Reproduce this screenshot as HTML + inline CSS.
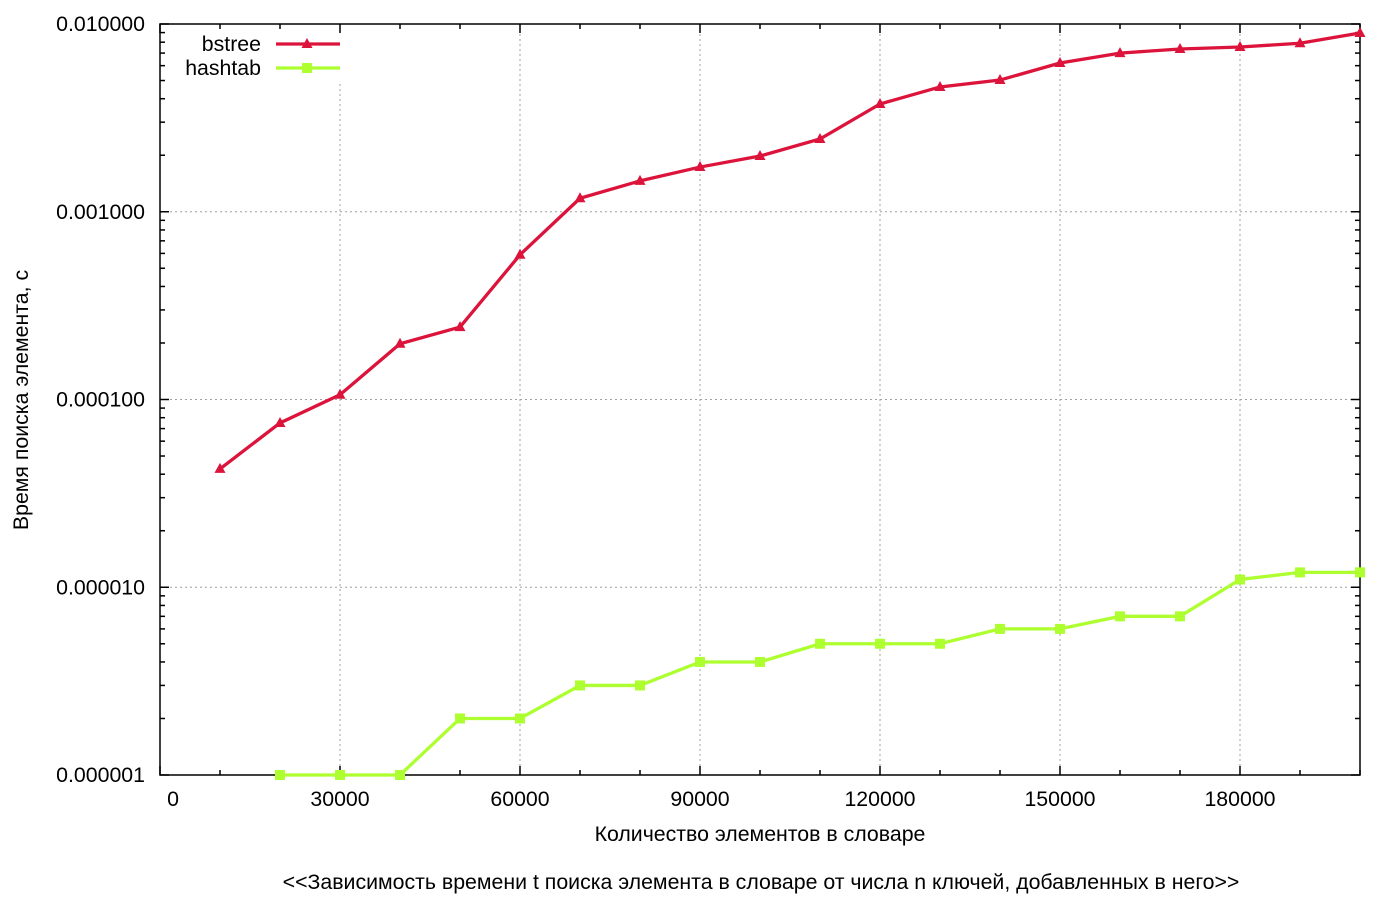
<!DOCTYPE html>
<html><head><meta charset="utf-8"><style>
html,body{margin:0;padding:0;background:#fff;}
svg text{font-family:"Liberation Sans",sans-serif;font-size:21.3px;fill:#000;}
</style></head><body>
<svg id="chart" width="1400" height="900" xmlns="http://www.w3.org/2000/svg"></svg>
<script>
const xValues=[10000,20000,30000,40000,50000,60000,70000,80000,90000,100000,110000,120000,130000,140000,150000,160000,170000,180000,190000,200000];
const bstreeValues=[4.27e-5,7.5e-5,1.06e-4,1.98e-4,2.43e-4,5.9e-4,1.18e-3,1.46e-3,1.73e-3,1.98e-3,2.44e-3,3.75e-3,4.62e-3,5.03e-3,6.2e-3,7.0e-3,7.36e-3,7.54e-3,7.9e-3,8.95e-3];
const hashXValues=[20000,30000,40000,50000,60000,70000,80000,90000,100000,110000,120000,130000,140000,150000,160000,170000,180000,190000,200000];
const hashtabValues=[1e-6,1e-6,1e-6,2e-6,2e-6,3e-6,3e-6,4e-6,4e-6,5e-6,5e-6,5e-6,6e-6,6e-6,7e-6,7e-6,1.1e-5,1.2e-5,1.2e-5];
const xTickValues=[0,30000,60000,90000,120000,150000,180000];
const yTickValues=[1e-6,1e-5,1e-4,1e-3,1e-2];
const yTickLabels=["0.000001","0.000010","0.000100","0.001000","0.010000"];

const L=160,R=1360,T=24,B=775;
const sx=v=>L+(v/200000)*(R-L);
const sy=v=>B-(Math.log10(v)+6)/4*(B-T);
const svg=document.getElementById('chart');
const NS='http://www.w3.org/2000/svg';
function mk(tag,attrs,parent){const e=document.createElementNS(NS,tag);for(const k in attrs)e.setAttribute(k,attrs[k]);(parent||svg).appendChild(e);return e;}

const grid=mk('g',{});


xTickValues.forEach(v=>{const x=sx(v);if(x>L)mk('line',{x1:x,y1:T,x2:x,y2:B,stroke:'#a0a0a0','stroke-width':1,'stroke-dasharray':'2,3'},grid);});
yTickValues.forEach(v=>{const y=sy(v);if(y>T&&y<B)mk('line',{x1:L,y1:y,x2:R,y2:y,stroke:'#a0a0a0','stroke-width':1,'stroke-dasharray':'2,3'},grid);});

mk('rect',{x:170,y:30,width:180,height:52,fill:'#fff'});

const ticks=mk('g',{stroke:'#000','stroke-width':1.5});


for(let v=0;v<=200000;v+=10000){const x=sx(v);const len=(v%30000===0)?9:5;
 mk('line',{x1:x,y1:B,x2:x,y2:B-len},ticks);mk('line',{x1:x,y1:T,x2:x,y2:T+len},ticks);}
for(let d=-6;d<-2;d++){for(let m=1;m<10;m++){const y=sy(m*Math.pow(10,d));const len=m===1?9:5;
 mk('line',{x1:L,y1:y,x2:L+len,y2:y},ticks);mk('line',{x1:R,y1:y,x2:R-len,y2:y},ticks);}}
{const y=sy(1e-2);mk('line',{x1:L,y1:y,x2:L+9,y2:y},ticks);mk('line',{x1:R,y1:y,x2:R-9,y2:y},ticks);}

const frame=mk('rect',{x:L,y:T,width:R-L,height:B-T,fill:'none',stroke:'#000','stroke-width':1.5});



xTickValues.forEach(v=>{const t=mk('text',{x:sx(v)+(v===0?13:0),y:806,'text-anchor':'middle'});t.textContent=String(v);
 
 });
yTickValues.forEach((v,i)=>{const t=mk('text',{x:145,y:sy(v)+7,'text-anchor':'end'});t.textContent=yTickLabels[i];
 
 });

function series(xs,ys,color,marker,name){
 const g=mk('g',{});
 
 
 mk('polyline',{points:xs.map((x,i)=>sx(x)+','+sy(ys[i])).join(' '),fill:'none',stroke:color,'stroke-width':3.3},g);
 xs.forEach((x,i)=>{const px=sx(x),py=sy(ys[i]);let m;
  if(marker==='tri')m=mk('polygon',{points:`${px},${py-6} ${px-5.5},${py+4} ${px+5.5},${py+4}`,fill:color},g);
  else m=mk('rect',{x:px-5,y:py-5,width:10,height:10,fill:color},g);
  
  });
}
series(xValues,bstreeValues,'#dc143c','tri','bstree');
series(hashXValues,hashtabValues,'#adff2f','sq','hashtab');

const lg=mk('g',{});


[['bstree','#dc143c','tri',44],['hashtab','#adff2f','sq',68]].forEach(([n,c,m,y])=>{
 const t=mk('text',{x:261,y:y+7,'text-anchor':'end'},lg);t.textContent=n;
 
 
 mk('line',{x1:276,y1:y,x2:340,y2:y,stroke:c,'stroke-width':3.3},lg);
 if(m==='tri')mk('polygon',{points:`307,${y-6} 301.5,${y+4} 312.5,${y+4}`,fill:c},lg);
 else mk('rect',{x:302,y:y-5,width:10,height:10,fill:c},lg);
});

let t=mk('text',{x:760,y:841,'text-anchor':'middle'});t.textContent='Количество элементов в словаре';


t=mk('text',{x:0,y:0,'text-anchor':'middle',transform:'translate(28,400) rotate(-90)'});t.textContent='Время поиска элемента, с';


t=mk('text',{x:761,y:889,'text-anchor':'middle'});t.textContent='<<Зависимость времени t поиска элемента в словаре от числа n ключей, добавленных в него>>';


</script>
</body></html>
